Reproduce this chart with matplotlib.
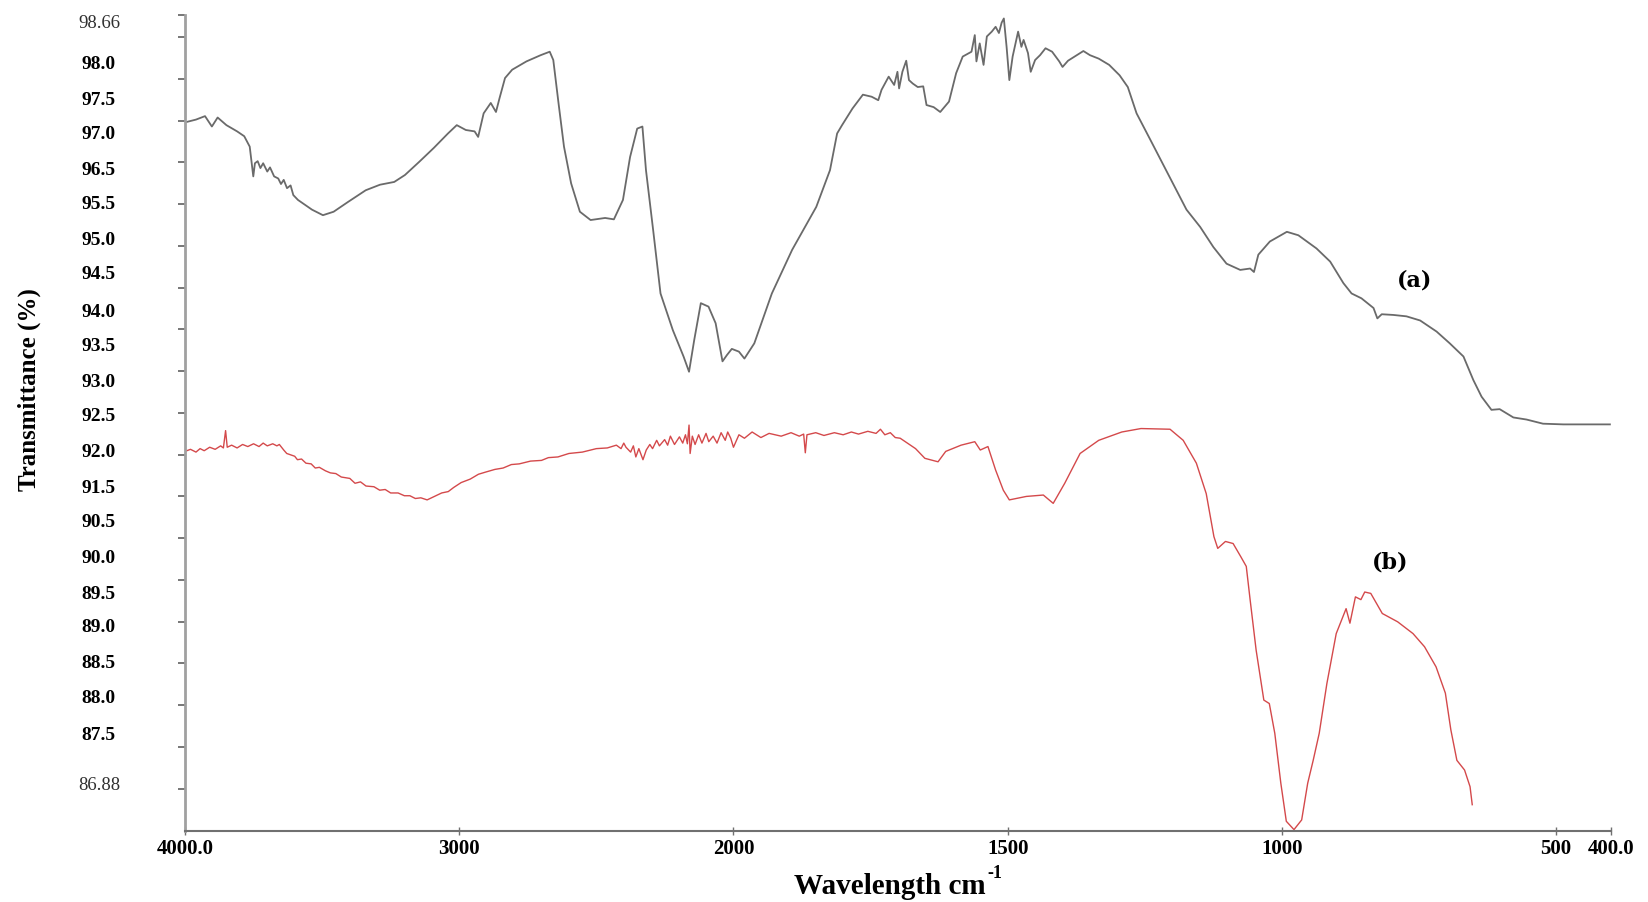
import numpy as np
import matplotlib
matplotlib.use("Agg")
import matplotlib.pyplot as plt

# ---------------------------------------------------------------------------
# FTIR spectra
# ---------------------------------------------------------------------------
wn_a = [4000, 3960, 3927, 3902, 3881, 3849, 3810, 3784, 3764, 3751, 3745, 3735,
        3725, 3715, 3700, 3690, 3675, 3660, 3650, 3640, 3628, 3615, 3605, 3588,
        3537, 3497, 3458, 3406, 3341, 3289, 3237, 3198, 3146,
        3093, 3041, 3009, 2976, 2944, 2931, 2911, 2885, 2866, 2853, 2833, 2807,
        2755, 2703, 2670, 2657, 2638, 2618, 2592, 2560, 2521, 2468, 2436, 2403,
        2377, 2351, 2332, 2319, 2293, 2266, 2221, 2182, 2162, 2143, 2119, 2091,
        2065, 2040, 2024, 2006, 1990, 1980, 1962, 1930, 1893, 1849, 1824, 1811,
        1802, 1783, 1764, 1748, 1736, 1730, 1717, 1707, 1701, 1698, 1692, 1685,
        1680, 1673, 1664, 1654, 1648, 1635, 1623, 1607, 1594, 1582, 1566, 1560,
        1557, 1551, 1544, 1538, 1529, 1522, 1516, 1511, 1507, 1502, 1497, 1491,
        1481, 1475, 1471, 1463, 1458, 1450, 1441, 1431, 1419, 1406, 1400, 1390,
        1378, 1362, 1350, 1334, 1315, 1296, 1281, 1265, 1240, 1208, 1174, 1149,
        1125, 1101, 1076, 1058, 1051, 1043, 1022, 991, 970, 937, 912, 888,
        873, 855, 833, 826, 818, 797, 773, 748, 718, 694, 669, 651,
        636, 618, 603, 578, 554, 524, 487, 402]
t_a = [97.11, 97.15, 97.20, 97.05, 97.18, 97.07, 96.98, 96.91, 96.76, 96.33, 96.52, 96.55,
       96.45, 96.52, 96.40, 96.46, 96.33, 96.30, 96.22, 96.28, 96.16, 96.20, 96.06, 95.99,
       95.85, 95.77, 95.82, 95.96, 96.13, 96.21, 96.25, 96.35, 96.54,
       96.74, 96.95, 97.07, 97.00, 96.98, 96.90, 97.24, 97.39, 97.26, 97.46, 97.75, 97.87,
       97.99, 98.08, 98.13, 98.01, 97.39, 96.76, 96.23, 95.82, 95.70, 95.73, 95.71, 95.99,
       96.61, 97.02, 97.05, 96.42, 95.56, 94.64, 94.11, 93.73, 93.51, 93.97, 94.50, 94.45,
       94.21, 93.66, 93.75, 93.84, 93.80, 93.70, 93.92, 94.64, 95.27, 95.89, 96.42, 96.95,
       97.07, 97.31, 97.51, 97.48, 97.43, 97.58, 97.77, 97.65, 97.84, 97.60, 97.84, 98.00,
       97.72, 97.67, 97.62, 97.63, 97.36, 97.33, 97.26, 97.41, 97.82, 98.06, 98.13, 98.37,
       97.99, 98.25, 97.94, 98.35, 98.42, 98.49, 98.40, 98.55, 98.61, 98.20, 97.72, 98.06,
       98.42, 98.20, 98.30, 98.11, 97.84, 98.01, 98.08, 98.18, 98.13, 97.99, 97.91, 98.00,
       98.06, 98.14, 98.08, 98.03, 97.94, 97.79, 97.62, 97.24, 96.86, 96.37, 95.85, 95.60,
       95.31, 95.07, 94.98, 95.00, 94.95, 95.20, 95.39, 95.53, 95.48, 95.29, 95.10, 94.79,
       94.64, 94.57, 94.43, 94.28, 94.34, 94.33, 94.31, 94.25, 94.09, 93.92, 93.73, 93.39,
       93.15, 92.96, 92.97, 92.85, 92.82, 92.76, 92.75, 92.75]

wn_b = [4000, 3980, 3960, 3945, 3930, 3910, 3890, 3870, 3860, 3852, 3846, 3830,
        3810, 3790, 3771, 3750, 3730, 3715, 3700, 3680, 3665, 3656, 3640, 3629,
        3600, 3590, 3575, 3559, 3540, 3525, 3510, 3488, 3470, 3450, 3430, 3399,
        3380, 3360, 3340, 3311, 3290, 3270, 3250, 3223, 3200, 3180, 3160, 3140,
        3117, 3064, 3040, 3020, 2993, 2960, 2930, 2905, 2870, 2840, 2810, 2781,
        2740, 2700, 2675, 2640, 2600, 2551, 2500, 2460,
        2427, 2410, 2400, 2392, 2375, 2365, 2356, 2345, 2330, 2318, 2305, 2295,
        2280, 2270, 2251, 2240, 2230, 2215, 2197, 2185, 2175, 2168, 2162, 2158,
        2150, 2140, 2127, 2115, 2100, 2090, 2074, 2060, 2045, 2030, 2021, 2010,
        2000, 1990, 1980, 1966, 1950, 1935, 1913, 1895, 1880, 1872, 1869, 1866,
        1850, 1835, 1816, 1800, 1785, 1772, 1755, 1740, 1732, 1724, 1714, 1705,
        1696, 1668, 1651, 1627, 1613, 1585, 1560, 1550, 1536, 1522, 1508, 1497,
        1466, 1435, 1417, 1396, 1368, 1334, 1292, 1257, 1204, 1180, 1156, 1138,
        1124, 1117, 1103, 1089, 1075, 1065, 1058, 1047, 1033, 1023, 1013, 1002,
        992, 978, 964, 953, 943, 932, 918, 901, 883, 876, 866, 856,
        849, 838, 817, 789, 761, 740, 719, 702, 692, 681, 667, 657, 653]
t_b = [92.36, 92.39, 92.35, 92.40, 92.37, 92.42, 92.39, 92.44, 92.41, 92.66, 92.42, 92.45,
       92.41, 92.46, 92.43, 92.47, 92.43, 92.48, 92.44, 92.47, 92.44, 92.46, 92.38, 92.33,
       92.29, 92.24, 92.25, 92.19, 92.18, 92.12, 92.13, 92.08, 92.05, 92.04, 91.99, 91.97,
       91.90, 91.92, 91.86, 91.85, 91.80, 91.81, 91.76, 91.76, 91.72, 91.72, 91.68, 91.69,
       91.66, 91.76, 91.78, 91.84, 91.91, 91.96, 92.03, 92.06, 92.10, 92.12, 92.17, 92.18,
       92.22, 92.23, 92.27, 92.28, 92.33, 92.35, 92.40, 92.41,
       92.45, 92.40, 92.48, 92.42, 92.35, 92.44, 92.28, 92.40, 92.24, 92.38, 92.46, 92.40,
       92.52, 92.44, 92.53, 92.45, 92.58, 92.46, 92.57, 92.48, 92.60, 92.47, 92.74, 92.33,
       92.58, 92.46, 92.60, 92.48, 92.62, 92.50, 92.58, 92.48, 92.63, 92.52, 92.64, 92.55,
       92.42, 92.60, 92.55, 92.64, 92.56, 92.62, 92.58, 92.63, 92.58, 92.61, 92.34, 92.60,
       92.63, 92.59, 92.63, 92.60, 92.64, 92.61, 92.65, 92.62, 92.68, 92.60, 92.63, 92.56,
       92.55, 92.40, 92.26, 92.21, 92.36, 92.45, 92.50, 92.38, 92.43, 92.09, 91.80, 91.66,
       91.71, 91.73, 91.61, 91.90, 92.33, 92.52, 92.64, 92.69, 92.68, 92.52, 92.19, 91.75,
       91.13, 90.96, 91.06, 91.03, 90.84, 90.70, 90.22, 89.49, 88.77, 88.72, 88.29, 87.57,
       87.02, 86.90, 87.04, 87.57, 87.90, 88.29, 89.01, 89.73, 90.09, 89.88, 90.26, 90.22,
       90.33, 90.31, 90.02, 89.90, 89.73, 89.54, 89.25, 88.87, 88.34, 87.90, 87.76, 87.52, 87.26]

# axis annotation as printed on the figure (labels do not follow a regular step)
x_ticks = [4000, 3000, 2000, 1500, 1000, 500, 400]
x_labels = ["4000.0", "3000", "2000", "1500", "1000", "500", "400.0"]
y_labels = ["98.66", "98.0", "97.5", "97.0", "96.5", "95.5", "95.0", "94.5", "94.0",
            "93.5", "93.0", "92.5", "92.0", "91.5", "90.5", "90.0", "89.5", "89.0",
            "88.5", "88.0", "87.5", "86.88"]
y_label_pos = [98.56, 97.97, 97.46, 96.96, 96.45, 95.96, 95.44, 94.94, 94.40,
               93.91, 93.39, 92.89, 92.38, 91.86, 91.36, 90.84, 90.33, 89.84,
               89.32, 88.82, 88.29, 87.56]


def fwd(x):
    # spectrometer axis: 2x expansion below 2000 cm-1
    x = np.asarray(x, dtype=float)
    return np.where(x > 2000, 2000 + (x - 2000) / 2, x)


def inv(f):
    f = np.asarray(f, dtype=float)
    return np.where(f > 2000, 2000 + 2 * (f - 2000), f)


plt.rcParams["font.family"] = ["Liberation Serif", "DejaVu Serif"]

fig = plt.figure(figsize=(16.48, 9.02), dpi=100)
ax = fig.add_axes([185 / 1648, 1 - 831 / 902, 1426 / 1648, 816 / 902])

ax.plot(wn_a, t_a, color="#6a6a6a", lw=1.3)
ax.plot(wn_b, t_b, color="#d4494b", lw=1.0)

ax.set_xscale("function", functions=(fwd, inv))
ax.set_xlim(4000, 400)
ax.set_ylim(86.88, 98.66)

for s in ["top", "right"]:
    ax.spines[s].set_visible(False)
ax.spines["left"].set_color("#a0a0a0")
ax.spines["left"].set_linewidth(2.0)
ax.spines["bottom"].set_color("#707070")
ax.spines["bottom"].set_linewidth(1.5)

ax.set_xticks(x_ticks, x_labels)
ax.xaxis.set_minor_locator(matplotlib.ticker.NullLocator())
ax.tick_params(axis="x", direction="inout", length=6, width=1, color="#707070",
               pad=3, labelsize=15)
for lab in ax.get_xticklabels():
    lab.set_fontweight("bold")

ax.set_yticks(y_label_pos, y_labels)
ax.set_yticks(list(np.linspace(98.34, 87.49, 19)) + [98.66], minor=True)
ax.tick_params(axis="y", which="major", length=0, pad=62, labelsize=14)
ax.tick_params(axis="y", which="minor", length=5, width=1.2, color="#606060")
for lab in ax.get_yticklabels():
    lab.set_horizontalalignment("center")
    if lab.get_text() in ("98.66", "86.88"):
        lab.set_color("#303030")
        lab.set_fontsize(13.5)
    else:
        lab.set_fontweight("bold")

fig.text(29 / 1648, 1 - 390 / 902, "Transmittance (%)", rotation=90,
         ha="center", va="center", fontsize=18, fontweight="bold")
fig.text(986 / 1648, 1 - 886 / 902, "Wavelength cm",
         ha="right", va="center", fontsize=21, fontweight="bold")
fig.text(987 / 1648, 1 - 874 / 902, "-1",
         ha="left", va="center", fontsize=13, fontweight="bold")

ax.text(1415 / 1648, 1 - 280 / 902, "(a)", transform=fig.transFigure,
        ha="center", va="center", fontsize=16, fontweight="bold", family="DejaVu Serif")
ax.text(1390 / 1648, 1 - 563 / 902, "(b)", transform=fig.transFigure,
        ha="center", va="center", fontsize=16, fontweight="bold", family="DejaVu Serif")

fig.savefig("out.png", dpi=100)
